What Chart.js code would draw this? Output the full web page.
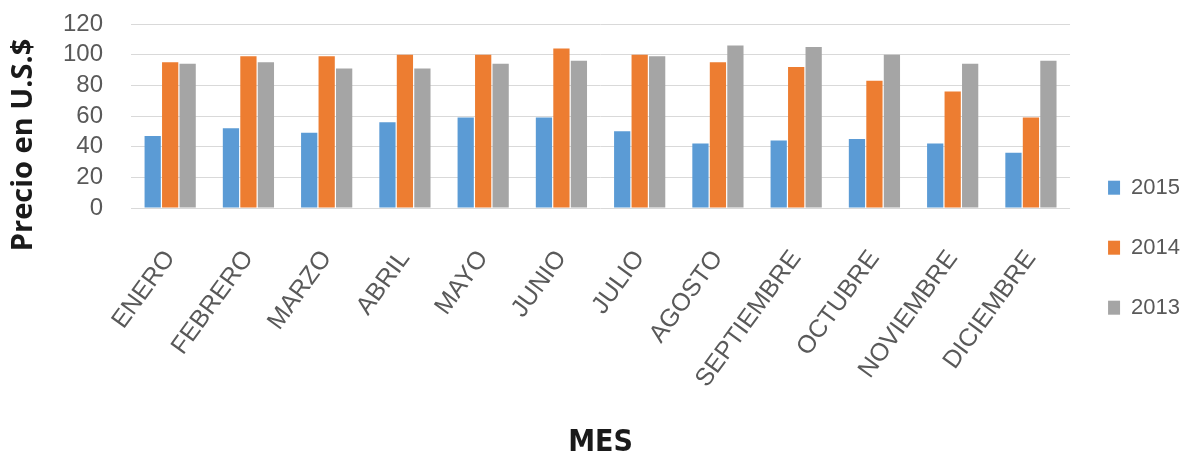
<!DOCTYPE html>
<html>
<head>
<meta charset="utf-8">
<script src="https://cdn.jsdelivr.net/npm/chart.js@4.4.1/dist/chart.umd.min.js"></script>
<style>
  html, body { margin: 0; padding: 0; background: #ffffff; }
  #wrap { width: 1190px; height: 452px; }
</style>
</head>
<body>
<div id="wrap"><canvas id="chart" width="1190" height="452"></canvas></div>
<script>
// Monthly prices by year
const meses = ['ENERO', 'FEBRERO', 'MARZO', 'ABRIL', 'MAYO', 'JUNIO', 'JULIO',
  'AGOSTO', 'SEPTIEMBRE', 'OCTUBRE', 'NOVIEMBRE', 'DICIEMBRE'];
const precios2015 = [47, 52, 49, 56, 59, 59, 50, 42, 44, 45, 42, 36];
const precios2014 = [95, 99, 99, 100, 100, 104, 100, 95, 92, 83, 76, 59];
const precios2013 = [94, 95, 91, 91, 94, 96, 99, 106, 105, 100, 94, 96];
const yTicks = [0, 20, 40, 60, 80, 100, 120];

const yTitle = 'Precio en U.S.$';
const xTitle = 'MES';

const textGrey = '#595959';
const sans = "'Liberation Sans', Arial, sans-serif";
const narrow = "'Liberation Sans Narrow', 'DejaVu Sans Condensed', 'Liberation Sans', sans-serif";

// Vertical axis title drawn beside the tick labels
const sideTitle = {
  id: 'sideTitle',
  afterDraw(chart) {
    const { ctx, chartArea } = chart;
    const cy = (chartArea.top + chartArea.bottom) / 2 + 29;
    ctx.save();
    ctx.translate(24, cy);
    ctx.rotate(-Math.PI / 2);
    ctx.font = "bold 29px 'Open Sans', 'Liberation Sans', sans-serif";
    ctx.fillStyle = '#1a1a1a';
    ctx.textAlign = 'center';
    ctx.textBaseline = 'middle';
    ctx.fillText(yTitle, 0, 0);
    ctx.restore();
  }
};

new Chart(document.getElementById('chart'), {
  type: 'bar',
  data: {
    labels: meses,
    datasets: [
      { label: '2015', data: precios2015, backgroundColor: '#5B9BD5' },
      { label: '2014', data: precios2014, backgroundColor: '#ED7D31' },
      { label: '2013', data: precios2013, backgroundColor: '#A5A5A5' }
    ]
  },
  options: {
    responsive: false,
    animation: false,
    layout: { padding: { left: 35, top: 24, right: 0, bottom: 0 } },
    datasets: { bar: { categoryPercentage: 0.67, barPercentage: 0.93 } },
    plugins: {
      tooltip: { enabled: false },
      legend: {
        position: 'right',
        title: { display: true, text: '', font: { size: 12 }, padding: { top: 0, bottom: 5 } },
        labels: {
          boxWidth: 12,
          boxHeight: 14,
          padding: 38,
          color: textGrey,
          font: { family: sans, size: 22 }
        }
      }
    },
    scales: {
      x: {
        // the slanted month names need more than half the canvas height
        afterFit(scale) { scale.height = 244; },
        grid: { display: false },
        border: { display: false },
        ticks: {
          autoSkip: false,
          minRotation: 54,
          maxRotation: 54,
          padding: 29,
          color: textGrey,
          font: { family: sans, size: 25 }
        },
        title: {
          display: true,
          text: xTitle,
          color: '#1a1a1a',
          font: { family: narrow, size: 30, weight: 'bold', lineHeight: 0.6 },
          padding: { top: 20, bottom: 0 }
        }
      },
      y: {
        min: 0,
        max: 120,
        afterBuildTicks(scale) { scale.ticks = yTicks.map(v => ({ value: v })); },
        // keep the label gap from widening the space above the plot
        afterFit(scale) { scale.paddingTop = 12; scale.paddingBottom = 12; },
        grid: { color: '#d9d9d9', lineWidth: 1, drawTicks: false },
        border: { display: false },
        ticks: {
          autoSkip: false,
          padding: 28,
          color: textGrey,
          font: { family: sans, size: 24 }
        }
      }
    }
  },
  plugins: [sideTitle]
});
</script>
</body>
</html>
